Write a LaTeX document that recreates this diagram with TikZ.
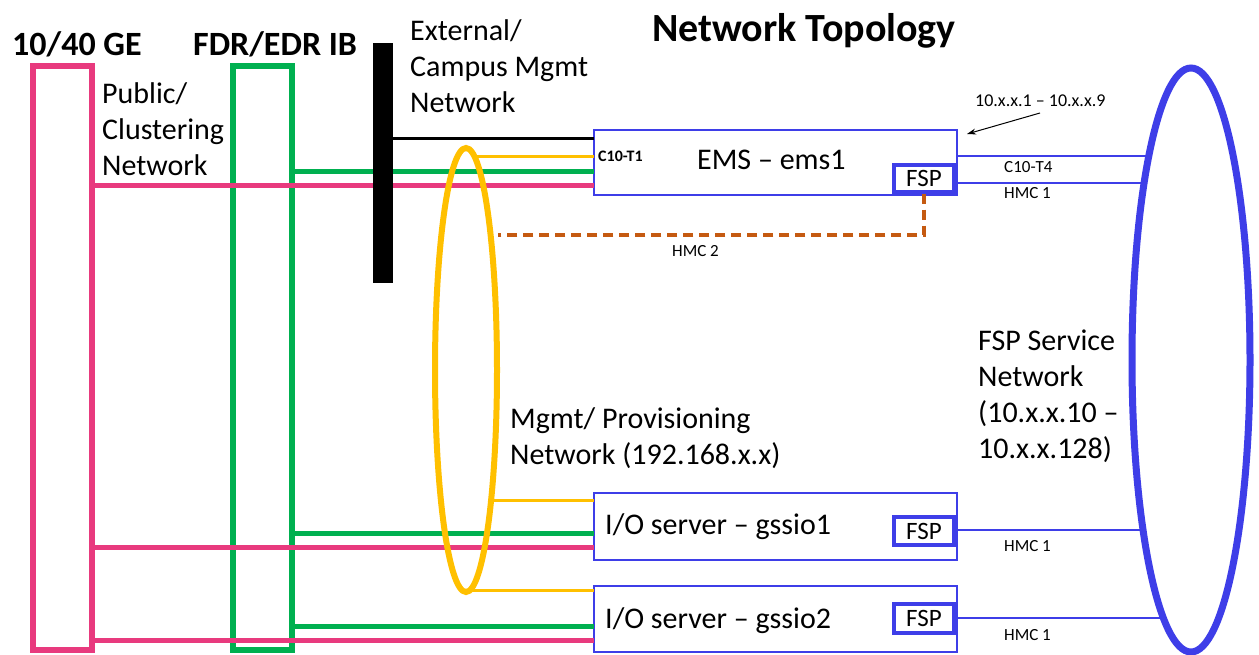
\documentclass[tikz,border=0pt]{standalone}
\usepackage{fontspec}
\setmainfont{Carlito}
\usetikzlibrary{shapes.geometric,arrows.meta}
\definecolor{pinkc}{RGB}{232,58,126}
\definecolor{greenc}{RGB}{0,176,80}
\definecolor{yellowc}{RGB}{255,192,0}
\definecolor{bluec}{RGB}{62,62,232}
\definecolor{brownc}{RGB}{197,90,17}
\begin{document}
\begin{tikzpicture}[x=1pt,y=-1pt,
  pk/.style={draw=pinkc,line width=5pt},
  gr/.style={draw=greenc,line width=5pt},
  yl/.style={draw=yellowc,line width=3pt},
  bk/.style={draw=black,line width=3pt},
  bl/.style={draw=bluec,line width=2.8pt},
  busrect/.style={rectangle,line width=6pt,inner sep=0pt,minimum width=59pt,minimum height=584pt},
  server/.style={rectangle,draw=bluec,line width=2.2pt,inner sep=0pt,minimum width=363pt},
  fspbox/.style={rectangle,draw=bluec,line width=3.5pt,inner sep=0pt,minimum width=60pt,font=\fontsize{25}{30}\selectfont},
  bigtxt/.style={inner sep=0pt,anchor=base west,font=\fontsize{30}{36}\selectfont},
  multitxt/.style={inner sep=0pt,anchor=north west,align=left,font=\fontsize{30}{36}\selectfont},
  headtxt/.style={inner sep=0pt,anchor=base west,font=\fontsize{34}{40}\selectfont\bfseries},
  smalltxt/.style={inner sep=0pt,anchor=base west,font=\fontsize{17}{20}\selectfont},
]
\useasboundingbox (0,0) rectangle (1259,655);
\fill[white] (0,0) rectangle (1259,655);

% title and headings
\node[inner sep=0pt,anchor=base west,font=\fontsize{40}{48}\selectfont\bfseries] (title) at (652,42) {Network Topology};
\node[headtxt] (ge) at (12,56) {10/40 GE};
\node[headtxt] (ib) at (193,56) {FDR/EDR IB};

% bus rectangles
\node[busrect,draw=greenc] (green) at (262,358) {};
\node[busrect,draw=pinkc] (pink) at (62.5,358) {};

% labels
\node[multitxt] (publbl) at (102,77.8) {\strut Public/\\Clustering\\Network};
\node[multitxt] (extlbl) at (410,14.8) {\strut External/\\Campus Mgmt\\Network};
\node[multitxt] (mgmtlbl) at (510,402.8) {\strut Mgmt/ Provisioning\\Network (192.168.x.x)};
\node[multitxt] (fsplbl) at (978,324.8) {\strut FSP Service\\Network\\(10.x.x.10 --\\10.x.x.128)};

% servers
\node[server,minimum height=65pt] (ems) at (775.5,162.5) {};
\node[server,minimum height=67pt] (io1) at (775.5,526.5) {};
\node[server,minimum height=66pt] (io2) at (775.5,619) {};
\node[bigtxt] (emslbl) at (697,170) {EMS -- ems1};
\node[bigtxt] (io1lbl) at (605,534) {I/O server -- gssio1};
\node[bigtxt] (io2lbl) at (605,628) {I/O server -- gssio2};
\node[inner sep=0pt,anchor=base west,font=\fontsize{16}{19}\selectfont\bfseries] (c10t1) at (598,162) {C10-T1};
\node[fspbox,minimum height=27pt] (fsp1) at (924,178.5) {FSP};
\node[fspbox,minimum height=28pt] (fsp2) at (924,531) {FSP};
\node[fspbox,minimum height=29pt] (fsp3) at (924,618.5) {FSP};

% port coordinates
\coordinate (eK) at (594,139);
\coordinate (eY) at (594,157);
\coordinate (eG) at (594,172);
\coordinate (eP) at (594,186);
\coordinate (aG) at (594,533);
\coordinate (aP) at (594,547);
\coordinate (aY) at (594,500);
\coordinate (bG) at (594,626);
\coordinate (bP) at (594,640);
\coordinate (bY) at (594,590);

% green and pink connectors
\draw[gr] (green.east |- eG) -- (eG);
\draw[gr] (green.east |- aG) -- (aG);
\draw[gr] (green.east |- bG) -- (bG);
\draw[pk] (pink.east |- eP) -- (eP);
\draw[pk] (pink.east |- aP) -- (aP);
\draw[pk] (pink.east |- bP) -- (bP);

% black external bus
\node[rectangle,fill=black,inner sep=0pt,minimum width=20pt,minimum height=240pt] (bar) at (383,163) {};
\draw[bk] (bar.east |- eK) -- (eK);

% yellow mgmt ellipse
\node[ellipse,draw=yellowc,line width=6pt,inner sep=0pt,minimum width=62pt,minimum height=444pt] (yel) at (466,370) {};
\coordinate (yT) at (475,157);
\coordinate (yM) at (493,500);
\coordinate (yB) at (470,590);
\draw[yl] (yT) -- (eY);
\draw[yl] (yM) -- (aY);
\draw[yl] (yB) -- (bY);

% dashed HMC 2
\coordinate (hmcend) at (498,235);
\draw[draw=brownc,line width=4pt,dash pattern=on 10pt off 6pt] (fsp1.south) -- (fsp1.south |- hmcend) -- (hmcend);
\node[smalltxt] (hmc2) at (672,257) {HMC 2};

% blue FSP service ellipse
\node[ellipse,draw=bluec,line width=7pt,inner sep=0pt,minimum width=118pt,minimum height=584pt] (blu) at (1191,360) {};
\coordinate (u1) at (1147,156);
\coordinate (u2) at (1142,183);
\coordinate (u3) at (1140,530);
\coordinate (u4) at (1160,618);
\draw[bl] (ems.east |- u1) -- (u1);
\draw[bl] (fsp1.east |- u2) -- (u2);
\draw[bl] (fsp2.east |- u3) -- (u3);
\draw[bl] (fsp3.east |- u4) -- (u4);
\node[smalltxt] (c10t4) at (1004,173) {C10-T4};
\node[smalltxt] (hmc1a) at (1004,199) {HMC 1};
\node[smalltxt] (hmc1b) at (1004,551) {HMC 1};
\node[smalltxt] (hmc1c) at (1004,640) {HMC 1};

% address label and arrow
\node[inner sep=0pt,anchor=base west,font=\fontsize{18}{22}\selectfont] (ipl) at (975,107) {10.x.x.1 -- 10.x.x.9};
\coordinate (arrs) at (1040,113);
\coordinate (arre) at (967,134);
\draw[black,line width=1pt,-{Stealth[length=9pt,width=6pt]}] (arrs) -- (arre);
\end{tikzpicture}
\end{document}
